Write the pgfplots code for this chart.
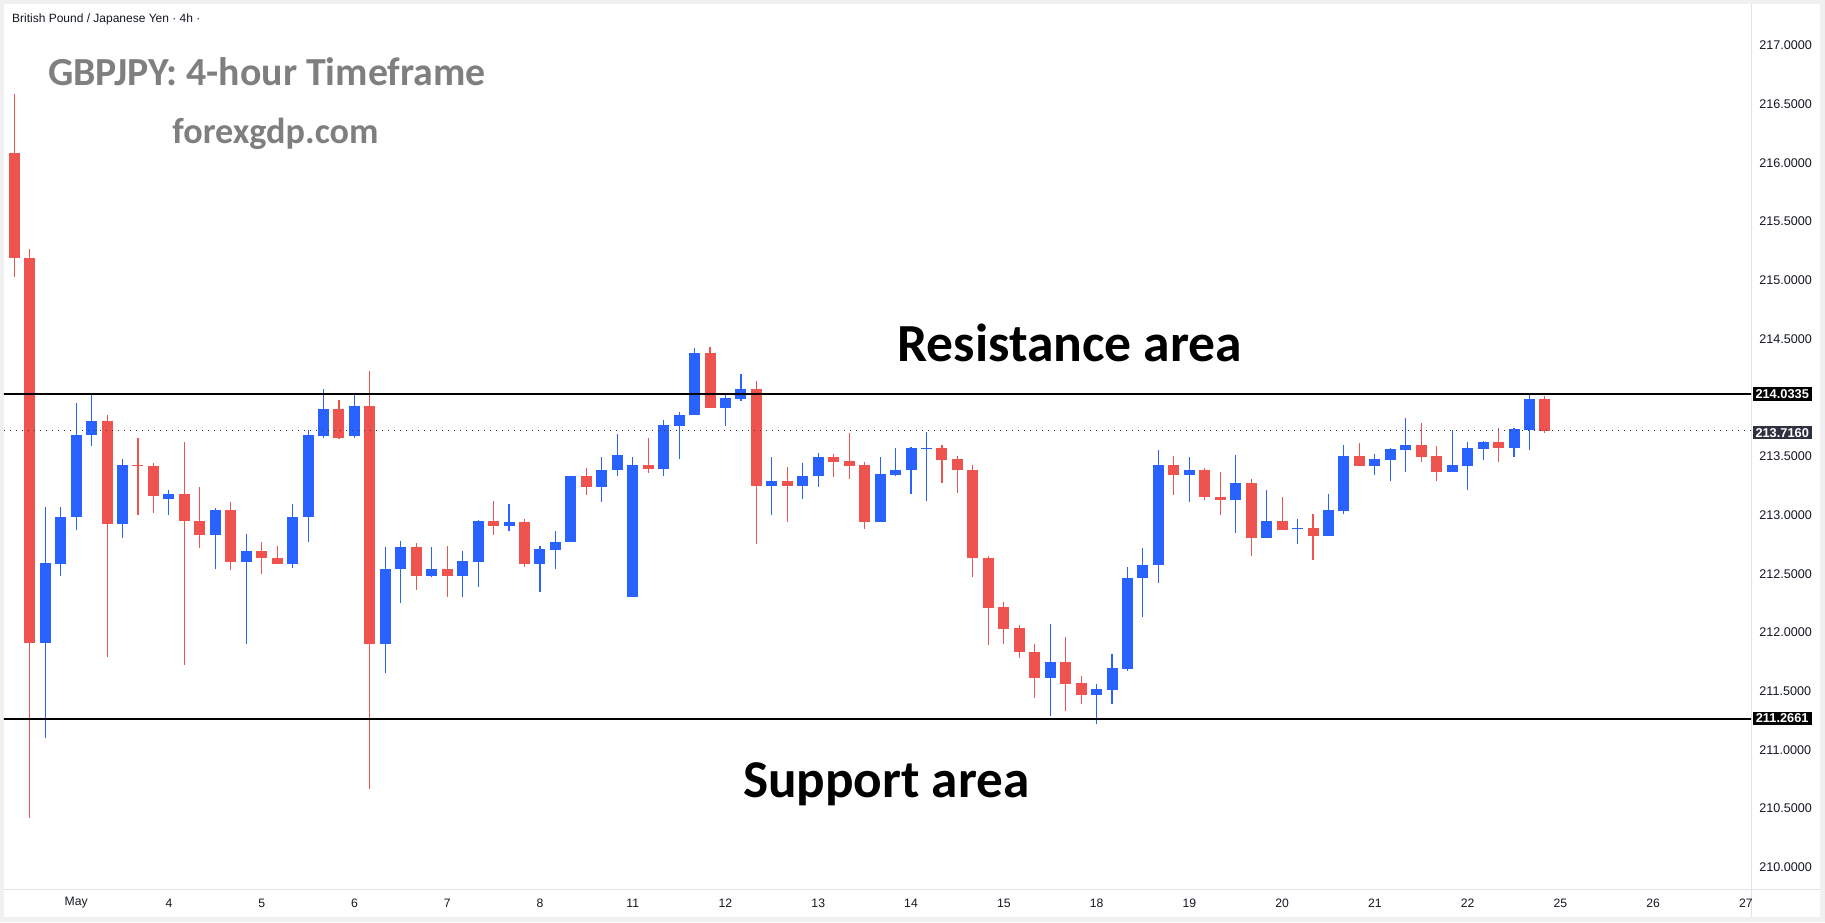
\documentclass[border=0pt]{standalone}
\usepackage{fontspec}
\setmainfont{Liberation Sans}
\newfontfamily\calfont{Carlito}
\usepackage{pgfplots}
\pgfplotsset{compat=1.18}
\usepackage{pgfplotstable}
\definecolor{upc}{HTML}{2962FF}
\definecolor{dnc}{HTML}{EF5350}
\definecolor{tvtext}{HTML}{131722}
\definecolor{titlegray}{HTML}{7F7F7F}
\definecolor{framegray}{HTML}{F0F0F0}
\definecolor{sepgray}{HTML}{E0E3EB}
\definecolor{lastbox}{HTML}{2E3240}

% x = candle index (4h), l = low, h = high, bo = open, bt = close
\pgfplotstableread{
x l h bo bt
2 211.10 213.07 211.91 212.59
3 212.48 213.07 212.58 212.98
4 212.87 213.95 212.98 213.68
5 213.59 214.04 213.68 213.80
7 212.80 213.48 212.92 213.43
10 213.00 213.21 213.14 213.18
13 212.54 213.06 212.83 213.04
15 211.90 212.84 212.60 212.69
18 212.55 213.09 212.58 212.98
19 212.77 213.72 212.98 213.68
20 213.66 214.07 213.67 213.90
22 213.66 214.03 213.67 213.93
24 211.65 212.73 211.90 212.54
25 212.25 212.78 212.54 212.73
27 212.47 212.73 212.48 212.54
29 212.30 212.69 212.48 212.61
30 212.39 212.96 212.60 212.95
32 212.86 213.09 212.91 212.94
34 212.34 212.74 212.58 212.71
35 212.54 212.86 212.70 212.77
36 212.77 213.33 212.77 213.33
38 213.11 213.49 213.24 213.38
39 213.33 213.69 213.38 213.51
40 212.30 213.49 212.30 213.43
42 213.33 213.81 213.39 213.77
43 213.48 213.88 213.76 213.85
44 213.85 214.42 213.85 214.38
46 213.76 214.02 213.91 214.00
47 213.97 214.20 213.99 214.07
49 213.00 213.49 213.25 213.29
51 213.14 213.44 213.25 213.33
52 213.24 213.53 213.33 213.49
56 212.94 213.49 212.94 213.35
57 213.33 213.57 213.34 213.38
58 213.18 213.58 213.38 213.57
59 213.12 213.71 213.565 213.575
67 211.29 212.07 211.61 211.75
70 211.22 211.56 211.47 211.52
71 211.39 211.82 211.51 211.70
72 211.67 212.56 211.69 212.46
73 212.13 212.72 212.46 212.57
74 212.42 213.55 212.57 213.43
76 213.11 213.49 213.34 213.38
79 212.85 213.51 213.13 213.27
81 212.80 213.21 212.80 212.95
83 212.75 212.97 212.88 212.89
85 212.82 213.18 212.82 213.04
86 213.01 213.60 213.03 213.50
88 213.34 213.52 213.42 213.48
89 213.29 213.57 213.47 213.56
90 213.37 213.83 213.55 213.60
93 213.37 213.72 213.37 213.43
94 213.21 213.62 213.42 213.57
95 213.47 213.63 213.56 213.62
97 213.49 213.74 213.57 213.73
98 213.55 214.04 213.72 213.99
}\upcandles

% x, l = low, h = high, bo = close, bt = open
\pgfplotstableread{
x l h bo bt
0 215.03 216.59 215.19 216.08
1 210.42 215.27 211.91 215.19
6 211.79 213.85 212.92 213.80
8 213.00 213.66 213.42 213.43
9 213.02 213.44 213.16 213.42
11 211.72 213.62 212.95 213.18
12 212.72 213.24 212.83 212.95
14 212.53 213.11 212.60 213.04
16 212.50 212.77 212.63 212.69
17 212.58 212.74 212.58 212.63
21 213.65 213.98 213.66 213.90
23 210.67 214.23 211.90 213.93
26 212.36 212.76 212.48 212.73
28 212.30 212.74 212.48 212.54
31 212.83 213.12 212.91 212.95
33 212.56 212.97 212.58 212.94
37 213.17 213.40 213.24 213.33
41 213.36 213.66 213.39 213.43
45 213.91 214.43 213.91 214.38
48 212.75 214.14 213.25 214.07
50 212.94 213.41 213.25 213.29
53 213.32 213.52 213.45 213.49
54 213.31 213.70 213.42 213.46
55 212.88 213.45 212.94 213.43
60 213.27 213.60 213.47 213.57
61 213.19 213.50 213.38 213.48
62 212.47 213.43 212.63 213.38
63 211.89 212.65 212.21 212.63
64 211.90 212.26 212.03 212.22
65 211.78 212.06 211.83 212.04
66 211.44 211.90 211.61 211.83
68 211.33 211.96 211.56 211.75
69 211.39 211.63 211.47 211.57
75 213.17 213.50 213.34 213.43
77 213.13 213.40 213.15 213.38
78 213.00 213.37 213.13 213.15
80 212.65 213.31 212.80 213.27
82 212.87 213.15 212.87 212.95
84 212.62 213.01 212.82 212.89
87 213.42 213.61 213.42 213.50
91 213.45 213.78 213.49 213.60
92 213.29 213.59 213.37 213.50
96 213.45 213.74 213.57 213.62
99 213.70 214.01 213.716 213.99
}\downcandles

\begin{document}
\begin{tikzpicture}
% image frame and pane separators
\fill[framegray] (-2pt,-16.5pt) rectangle (910.5pt,444.5pt);
\fill[white] (0pt,-13.75pt) rectangle (908pt,442.5pt);
\draw[sepgray, line width=0.5pt] (873.5pt,-13.75pt) -- (873.5pt,442.5pt);
\draw[sepgray, line width=0.5pt] (0pt,0pt) -- (908pt,0pt);

\begin{axis}[
  at={(0pt,0pt)}, anchor=south west,
  scale only axis, width=873.5pt, height=442.5pt,
  xmin=-0.666, xmax=112.33,
  ymin=209.814, ymax=217.353,
  axis line style={draw=none},
  major tick length=0pt,
  clip mode=individual,
  xtick={4,10,16,22,28,34,40,46,52,58,64,70,76,82,88,94,100,106,112},
  xticklabels={May,4,5,6,7,8,11,12,13,14,15,18,19,20,21,22,25,26,27},
  xticklabel style={anchor=center, inner sep=0pt, yshift=-7pt, font=\fontsize{6.1}{7}\selectfont, text=tvtext},
  ytick={210,210.5,211,211.5,212,212.5,213,213.5,214.5,215,215.5,216,216.5,217},
  yticklabel pos=right,
  yticklabel style={anchor=west, inner sep=0pt, xshift=4.0pt, font=\fontsize{6.3}{7}\selectfont, text=tvtext,
    /pgf/number format/.cd, fixed, fixed zerofill, precision=4, 1000 sep={}, assume math mode=true},
]
% wicks
\addplot[upc, line width=0.55pt, quiver={u=0, v=\thisrow{h}-\thisrow{l}}] table[x=x, y=l] {\upcandles};
\addplot[dnc, line width=0.55pt, quiver={u=0, v=\thisrow{h}-\thisrow{l}}] table[x=x, y=l] {\downcandles};
% bodies
\addplot[upc, line width=5.5pt, quiver={u=0, v=\thisrow{bt}-\thisrow{bo}}] table[x=x, y=bo] {\upcandles};
\addplot[dnc, line width=5.5pt, quiver={u=0, v=\thisrow{bt}-\thisrow{bo}}] table[x=x, y=bo] {\downcandles};
% levels
\addplot[black, line width=1pt] coordinates {(-1,214.0335) (113,214.0335)};
\addplot[black, line width=1pt] coordinates {(-1,211.2661) (113,211.2661)};
\addplot[black!80, line width=0.55pt, dash pattern=on 0.55pt off 2.45pt] coordinates {(-0.666,213.716) (112.33,213.716)};
% price tags
\node[fill=black, text=white, anchor=west, minimum width=29.7pt, minimum height=6.9pt, inner sep=0pt,
  font=\fontsize{6.4}{6.5}\selectfont\bfseries] at (axis cs:112.4,214.0335) {214.0335};
\node[fill=lastbox, text=white, anchor=west, minimum width=29.7pt, minimum height=6.5pt, inner sep=0pt,
  font=\fontsize{6.4}{6.5}\selectfont\bfseries] at (axis cs:112.4,213.699) {213.7160};
\node[fill=black, text=white, anchor=west, minimum width=29.7pt, minimum height=6.9pt, inner sep=0pt,
  font=\fontsize{6.4}{6.5}\selectfont\bfseries] at (axis cs:112.4,211.2661) {211.2661};
\end{axis}

% texts
\node[anchor=base west, inner sep=0pt, font=\fontsize{6.0}{7}\selectfont, text=tvtext] at (3.85pt,433.0pt) {British Pound / Japanese Yen · 4h ·};
\node[anchor=base west, inner sep=0pt, font=\calfont\bfseries\fontsize{19.9}{22}\selectfont, text=titlegray] at (21.85pt,401.5pt) {GBPJPY: 4-hour Timeframe};
\node[anchor=base west, inner sep=0pt, font=\calfont\bfseries\fontsize{18.1}{20}\selectfont, text=titlegray] at (84.0pt,372.85pt) {forexgdp.com};
\node[anchor=base west, inner sep=0pt, font=\calfont\bfseries\fontsize{26.8}{30}\selectfont, text=black] at (446.5pt,263.5pt) {Resistance area};
\node[anchor=base west, inner sep=0pt, font=\calfont\bfseries\fontsize{26.6}{30}\selectfont, text=black] at (369.3pt,46pt) {Support area};
\end{tikzpicture}
\end{document}
